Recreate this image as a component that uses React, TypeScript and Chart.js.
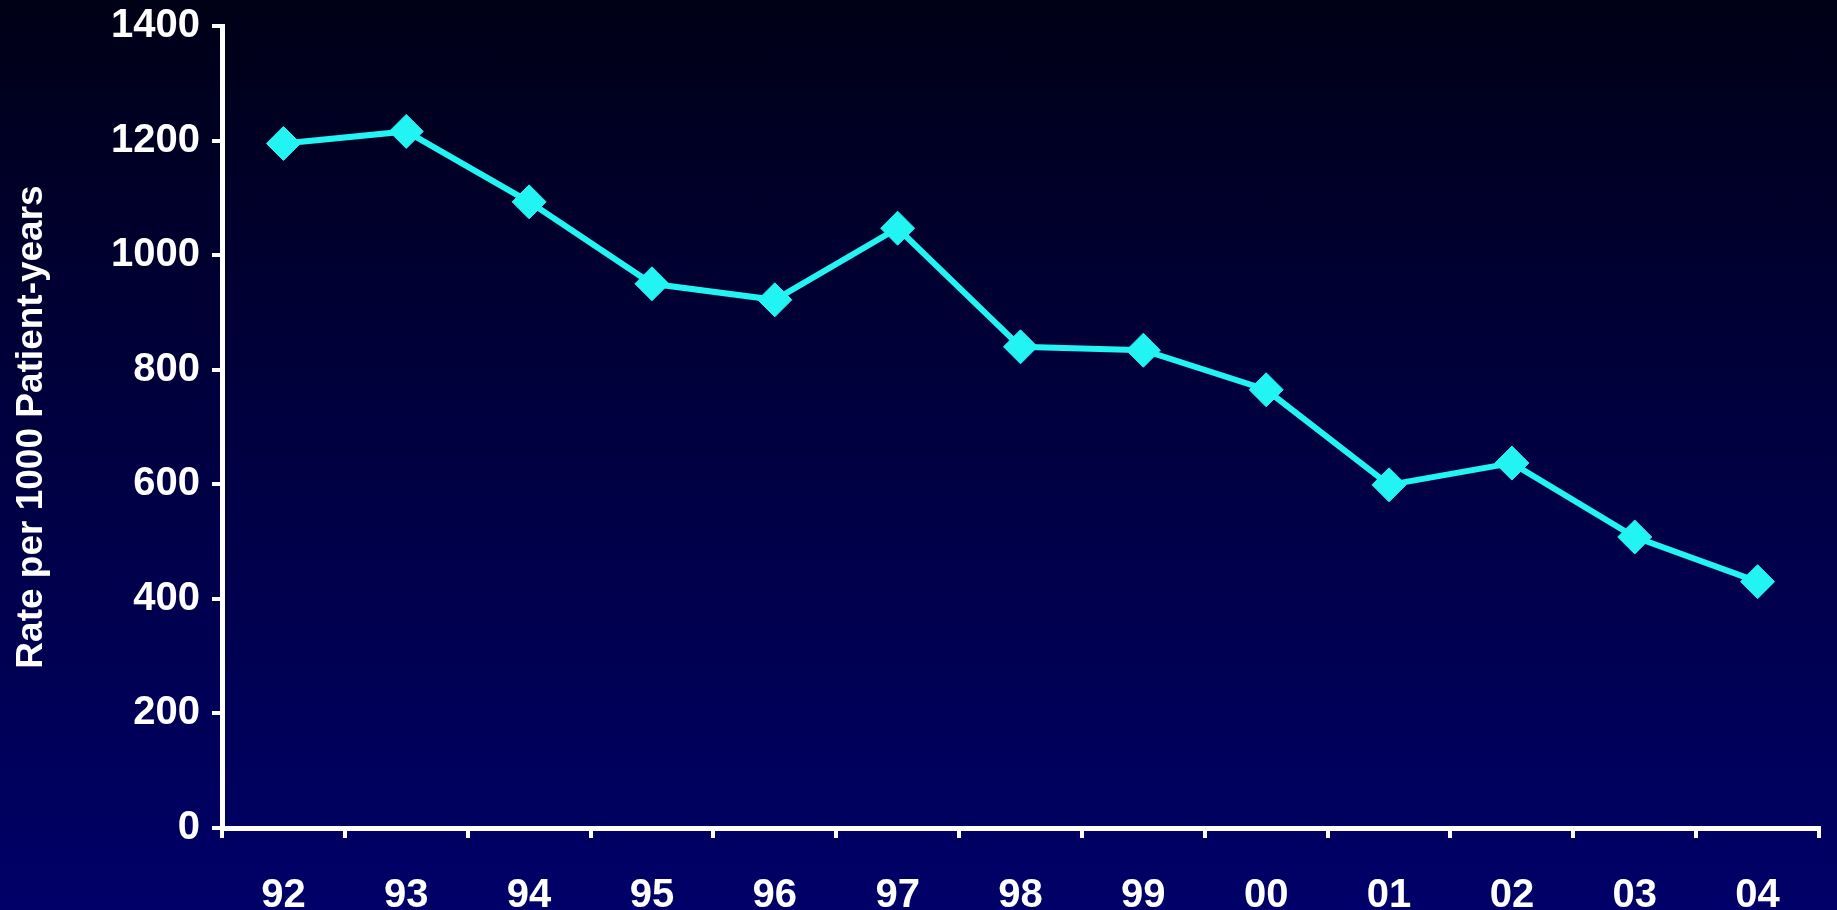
import React, { useEffect, useRef } from "react";
import { Chart, registerables } from "chart.js";

Chart.register(...registerables);

const years = ["92", "93", "94", "95", "96", "97", "98", "99", "00", "01", "02", "03", "04"];
const rates = [1195, 1216, 1093, 950, 922, 1047, 840, 834, 765, 599, 637, 508, 430];
const yMin = 0;
const yMax = 1400;
const yStep = 200;
const yTitle = "Rate per 1000 Patient-years";

export default function App() {
  const ref = useRef<HTMLCanvasElement | null>(null);

  useEffect(() => {
    if (!ref.current) return;
    const font = "'Liberation Sans', Arial, sans-serif";
    const cyan = "#22f4f4";
    const chart = new Chart(ref.current, {
      type: "line",
      data: {
        labels: years,
        datasets: [
          {
            data: rates,
            borderColor: cyan,
            backgroundColor: cyan,
            borderWidth: 6,
            tension: 0,
            pointStyle: "rectRot",
            pointRadius: 17,
            pointBorderWidth: 1,
            pointBackgroundColor: cyan,
            pointBorderColor: cyan,
          },
        ],
      },
      options: {
        responsive: false,
        animation: false,
        layout: { padding: { top: 26, right: 9, bottom: 20, left: 0 } },
        plugins: { legend: { display: false }, tooltip: { enabled: false } },
        scales: {
          x: {
            offset: true,
            grid: {
              offset: true,
              drawOnChartArea: false,
              drawTicks: true,
              tickLength: 10,
              color: "#ffffff",
              lineWidth: 4,
            },
            border: { display: true, color: "#ffffff", width: 5 },
            ticks: {
              color: "#ffffff",
              padding: 34,
              font: { family: font, size: 40, weight: "bold" },
            },
            afterFit: (axis: any) => {
              axis.height = 92;
              axis.paddingLeft = 0;
              axis.paddingRight = 0;
            },
          },
          y: {
            min: yMin,
            max: yMax,
            grid: {
              drawOnChartArea: false,
              drawTicks: true,
              tickLength: 10,
              color: "#ffffff",
              lineWidth: 4,
            },
            border: { display: true, color: "#ffffff", width: 5 },
            ticks: {
              stepSize: yStep,
              color: "#ffffff",
              padding: 12,
              font: { family: font, size: 40, weight: "bold" },
              callback: (v: any) => String(v),
            },
            title: {
              display: true,
              text: yTitle,
              color: "#ffffff",
              padding: { top: 10, bottom: 0 },
              font: { family: font, size: 37, weight: "bold", lineHeight: 1.2 },
            },
            afterFit: (axis: any) => {
              axis.width = 222;
              axis.paddingTop = 0;
              axis.paddingBottom = 0;
            },
          },
        },
      },
    });
    return () => chart.destroy();
  }, []);

  return (
    <div
      style={{
        position: "fixed",
        left: 0,
        top: 0,
        width: 1837,
        height: 910,
        overflow: "hidden",
        background: "linear-gradient(to bottom, #000016 0%, #00003e 45%, #000068 100%)",
      }}
    >
      <canvas ref={ref} width={1837} height={940} style={{ display: "block" }} />
    </div>
  );
}
